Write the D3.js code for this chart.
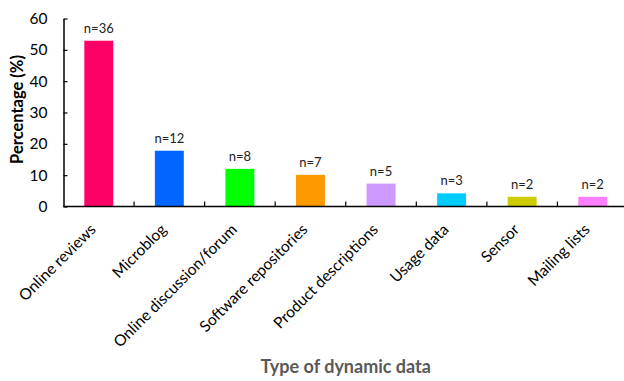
<!DOCTYPE html>
<html>
<head>
<meta charset="utf-8">
<script src="https://cdn.jsdelivr.net/npm/d3@7"></script>
<style>
html,body{margin:0;padding:0;background:#fff;}
svg{display:block;}
</style>
</head>
<body>
<svg id="chart" width="624" height="381"></svg>
<script>
const categories = ["Online reviews","Microblog","Online discussion/forum","Software repositories","Product descriptions","Usage data","Sensor","Mailing lists"];
const values = [52.9, 17.8, 12.0, 10.1, 7.3, 4.2, 3.1, 3.1];
const counts = ["n=36","n=12","n=8","n=7","n=5","n=3","n=2","n=2"];
const colors = ["#FF0066","#0066FF","#00FF00","#FF9900","#CC99FF","#00CCFF","#CCCC00","#FF80FF"];
const yTicks = [0,10,20,30,40,50,60];
const yTitle = "Percentage (%)";
const xTitle = "Type of dynamic data";

(function(){
const svg = d3.select("#chart");
const mLeft = 63.5, mRight = 628, mTop = 18.5, mBottom = 206.5;
const font = "Lato, 'Open Sans', sans-serif";

const xEdge = d3.scaleBand().domain(categories).range([mLeft, mRight]).padding(0);
const x = d3.scaleBand().domain(categories).range([mLeft, mRight]).paddingInner(0.59).paddingOuter(0.295);
const y = d3.scaleLinear().domain([0, 60]).range([mBottom, mTop]);

// bars
svg.append("g").selectAll("rect").data(categories).join("rect")
  .attr("x", d => x(d))
  .attr("width", x.bandwidth())
  .attr("y", (d,i) => y(values[i]))
  .attr("height", (d,i) => y(0) - y(values[i]))
  .attr("fill", (d,i) => colors[i]);

// count labels
svg.append("g").selectAll("text").data(categories).join("text")
  .attr("x", d => x(d) + x.bandwidth()/2)
  .attr("y", (d,i) => y(values[i]) - 8)
  .attr("text-anchor", "middle")
  .attr("font-family", font)
  .attr("font-size", 13)
  .attr("fill", "#222")
  .text((d,i) => counts[i]);

// y axis
const yAxis = svg.append("g").attr("transform", `translate(${mLeft},0)`)
  .call(d3.axisLeft(y).tickValues(yTicks).tickSizeInner(-4).tickSizeOuter(0).tickPadding(16));
yAxis.select(".domain").attr("stroke", "#000").attr("stroke-width", 1.5);
yAxis.selectAll(".tick line").attr("stroke", "#000").attr("stroke-width", 1.2);
yAxis.selectAll(".tick text").attr("font-family", font).attr("font-size", 15.5).attr("fill", "#000");

// x axis line
svg.append("line").attr("x1", mLeft).attr("x2", mRight).attr("y1", mBottom).attr("y2", mBottom)
  .attr("stroke", "#000").attr("stroke-width", 1.5);
// x ticks at band boundaries (inward)
svg.append("g").selectAll("line").data(categories.slice(1)).join("line")
  .attr("x1", d => xEdge(d)).attr("x2", d => xEdge(d))
  .attr("y1", mBottom).attr("y2", mBottom - 5)
  .attr("stroke", "#000").attr("stroke-width", 1.2);

// x category labels
svg.append("g").selectAll("text").data(categories).join("text")
  .attr("transform", d => `translate(${x(d) + x.bandwidth()/2 - 2},${mBottom + 24}) rotate(-45)`)
  .attr("text-anchor", "end")
  .attr("font-family", font)
  .attr("font-size", 15.5)
  .attr("fill", "#000")
  .text(d => d);

// titles
svg.append("text")
  .attr("transform", `translate(23,${(mTop+mBottom)/2 - 3}) rotate(-90)`)
  .attr("text-anchor", "middle")
  .attr("font-family", font)
  .attr("font-weight", "bold")
  .attr("font-size", 16.5)
  .attr("fill", "#000")
  .text(yTitle);

svg.append("text")
  .attr("x", (mLeft + mRight)/2)
  .attr("y", 373)
  .attr("text-anchor", "middle")
  .attr("font-family", font)
  .attr("font-weight", "bold")
  .attr("font-size", 18)
  .attr("fill", "#595959")
  .text(xTitle);
})();
</script>
</body>
</html>
